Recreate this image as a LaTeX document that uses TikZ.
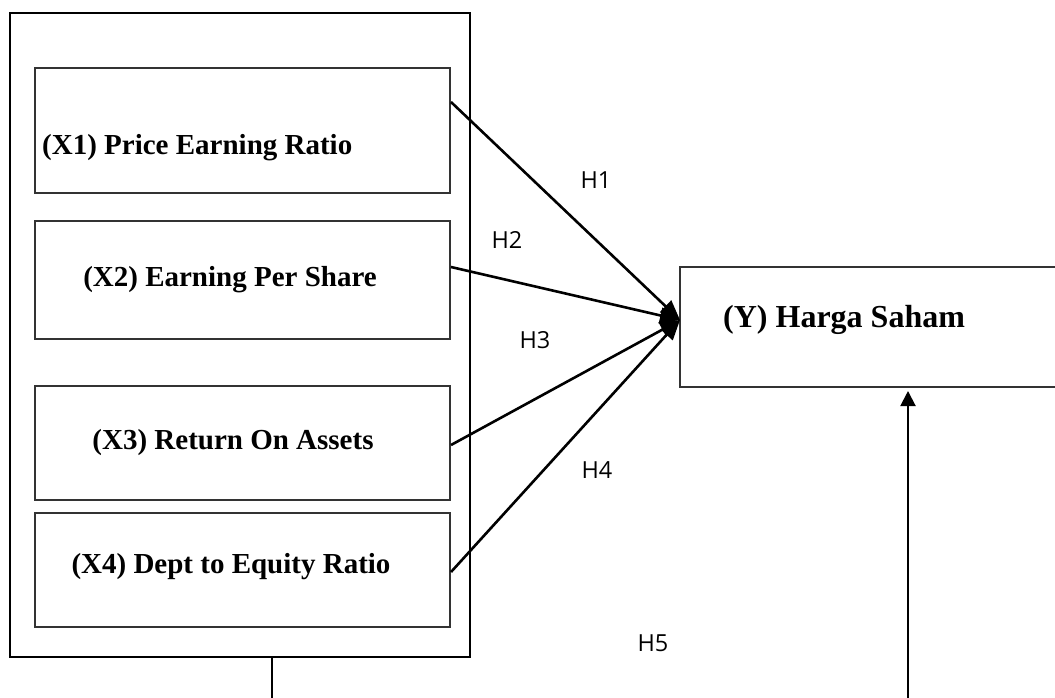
\documentclass[tikz,border=0pt]{standalone}
\usepackage{fontspec}
\setmainfont{Liberation Serif}
\newfontfamily\hfont{Open Sans}
\usetikzlibrary{arrows.meta,calc}
\definecolor{boxgray}{HTML}{333333}
\begin{document}
\begin{tikzpicture}[x=1pt,y=-1pt,
  outerbox/.style={draw=black,line width=2pt,inner sep=0pt},
  varbox/.style={draw=boxgray,line width=2pt,inner sep=0pt,minimum width=415pt},
  vartext/.style={inner sep=0pt,font=\fontsize{29}{34}\selectfont\bfseries},
  hlabel/.style={inner sep=0pt,font=\hfont\fontsize{23.5}{28}\selectfont},
  hyparrow/.style={line width=2.6pt,-{Triangle[length=20pt,width=16pt]}},
  feedarrow/.style={line width=2pt,-{Triangle[length=15pt,width=15pt]},shorten >=3pt}]
\useasboundingbox (0,0) rectangle (1055,697);
\clip (0,0) rectangle (1055,697);
% outer frame
\node[outerbox,minimum width=460pt,minimum height=644pt] (outer) at (240,335) {};
% variable boxes
\node[varbox,minimum height=125pt] (x1) at (242.5,130.5) {};
\node[varbox,minimum height=118pt] (x2) at (242.5,280) {};
\node[varbox,minimum height=114pt] (x3) at (242.5,443) {};
\node[varbox,minimum height=114pt] (x4) at (242.5,570) {};
\node[varbox,minimum width=456pt,minimum height=120pt] (y) at (908,327) {};
% texts
\node[vartext,anchor=west] (t1) at (42,148) {(X1) Price Earning Ratio};
\node[vartext] (t2) at (230,280) {(X2) Earning Per Share};
\node[vartext] (t3) at (233,443) {(X3) Return On Assets};
\node[vartext] (t4) at (231,567) {(X4) Dept to Equity Ratio};
\node[vartext,anchor=west,font=\fontsize{32}{38}\selectfont\bfseries] (ty) at (723,320) {(Y) Harga Saham};
% hypothesis labels
\node[hlabel] (h1) at (596,180) {H1};
\node[hlabel] (h2) at (507,240) {H2};
\node[hlabel] (h3) at (535,340) {H3};
\node[hlabel] (h4) at (597,470) {H4};
\node[hlabel] (h5) at (653,643) {H5};
% arrows
\coordinate (tip) at (680,320);
\draw[hyparrow] ([yshift=28.5pt]x1.east) -- (tip);
\draw[hyparrow] ([yshift=13pt]x2.east) -- (tip);
\draw[hyparrow] ([yshift=-2pt]x3.east) -- (tip);
\draw[hyparrow] ([yshift=-2pt]x4.east) -- (tip);
\coordinate (s) at (272,657);
\draw[feedarrow] (outer.south -| s) -- ++(0,70) -| (y.south);
\end{tikzpicture}
\end{document}
